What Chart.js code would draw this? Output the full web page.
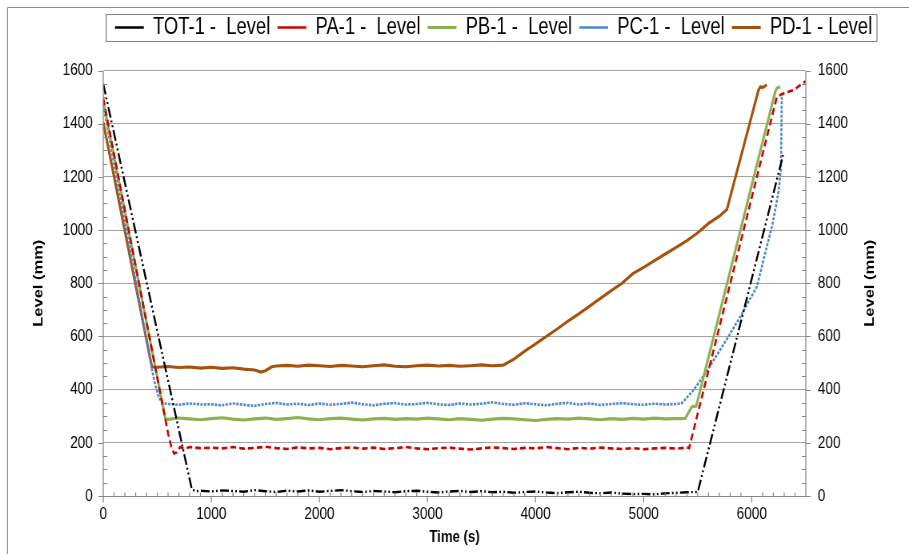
<!DOCTYPE html>
<html>
<head>
<meta charset="utf-8">
<script src="https://cdn.jsdelivr.net/npm/chart.js@4.4.1/dist/chart.umd.min.js"></script>
<style>
html,body{margin:0;padding:0;background:#fff;overflow:hidden;width:909px;height:554px;}
#box{width:909px;height:554px;overflow:hidden;position:relative;background:#fff;}
#c{position:absolute;left:0;top:0;transform:scaleX(0.80018);transform-origin:0 0;}
</style>
</head>
<body>
<div id="box"><canvas id="c" width="1136" height="554"></canvas></div>
<script>
// ---------------- data ----------------
const seriesNames = ['TOT-1 -  Level', 'PA-1 -  Level', 'PB-1 -  Level', 'PC-1 -  Level', 'PD-1 - Level'];
const xTitle = 'Time (s)';
const yTitle = 'Level (mm)';
const xTicks = [0, 1000, 2000, 3000, 4000, 5000, 6000];
const yTicks = [0, 200, 400, 600, 800, 1000, 1200, 1400, 1600];
const xRange = [0, 6500];
const yRange = [0, 1600];
const xMinorStep = 100;
const yMinorStep = 50;

const totTime = [0, 820, 860, 900, 1000, 1100, 1200, 1300, 1400, 1500, 1600, 1700, 1800, 1900, 2000, 2100, 2200, 2300, 2400, 2500, 2600, 2700, 2800, 2900, 3000, 3100, 3200, 3300, 3400, 3500, 3600, 3700, 3800, 3900, 4000, 4100, 4200, 4300, 4400, 4500, 4600, 4700, 4800, 4900, 5000, 5100, 5200, 5300, 5400, 5500, 6290];
const totLevel = [1550, 25, 18, 20, 17, 21, 19, 16, 22, 18, 15, 20, 17, 21, 16, 19, 22, 18, 15, 19, 17, 14, 18, 20, 16, 13, 17, 19, 15, 18, 14, 16, 12, 15, 17, 13, 11, 14, 16, 12, 10, 13, 9, 7, 8, 6, 10, 12, 14, 15, 1282];

const paTime = [0, 600, 630, 655, 680, 710, 750, 800, 900, 1000, 1100, 1200, 1300, 1400, 1500, 1600, 1700, 1800, 1900, 2000, 2100, 2200, 2300, 2400, 2500, 2600, 2700, 2800, 2900, 3000, 3100, 3200, 3300, 3400, 3500, 3600, 3700, 3800, 3900, 4000, 4100, 4200, 4300, 4400, 4500, 4600, 4700, 4800, 4900, 5000, 5100, 5200, 5300, 5400, 5420, 6232, 6280, 6390, 6500];
const paLevel = [1495, 235, 185, 160, 164, 184, 178, 184, 180,
  182, 179, 184, 178, 181, 185, 180, 177, 183, 179,
  181, 176, 180, 183, 178, 182, 177, 180, 184, 179,
  176, 180, 182, 178, 175, 179, 183, 180, 177, 181,
  179, 184, 180, 176, 181, 178, 182, 179, 177, 180,
  176, 179, 181, 178, 182,
  180, 1500, 1512, 1527, 1560];

const pbTime = [0, 574, 600, 700, 800, 900, 1000, 1100, 1200, 1300, 1400, 1500, 1600, 1700, 1800, 1900, 2000, 2100, 2200, 2300, 2400, 2500, 2600, 2700, 2800, 2900, 3000, 3100, 3200, 3300, 3400, 3500, 3600, 3700, 3800, 3900, 4000, 4100, 4200, 4300, 4400, 4500, 4600, 4700, 4800, 4900, 5000, 5100, 5200, 5300, 5384, 5446, 5486, 6217, 6232, 6263];
const pbLevel = [1485, 292, 288, 293, 290, 287,
  291, 294, 289, 286, 290, 293, 288, 291, 295, 290,
  287, 291, 293, 289, 286, 290, 292, 288, 291, 289,
  293, 290, 287, 291, 288, 285, 289, 292, 290, 287,
  284, 288, 291, 289, 293, 290, 287, 291, 288, 292,
  289, 293, 290, 291,
  292, 336, 338, 1520, 1533, 1539];

const pcTime = [0, 450, 480, 512, 545, 600, 700, 800, 900, 1000, 1100, 1200, 1300, 1400, 1500, 1600, 1700, 1800, 1900, 2000, 2100, 2200, 2300, 2400, 2500, 2600, 2700, 2800, 2900, 3000, 3100, 3200, 3300, 3400, 3500, 3600, 3700, 3800, 3900, 4000, 4100, 4200, 4300, 4400, 4500, 4600, 4700, 4800, 4900, 5000, 5100, 5200, 5300, 5353, 5461, 5585, 5646, 5770, 5893, 6047, 6108, 6186, 6217, 6250, 6270, 6278, 6285];
const pcLevel = [1470, 478, 420, 373, 350, 346, 343, 348, 344,
  345, 341, 348, 343, 339, 346, 350, 344, 347, 342,
  348, 343, 346, 351, 345, 341, 347, 349, 344, 346,
  350, 345, 342, 348, 344, 347, 352, 346, 343, 349,
  345, 341, 347, 350, 344, 348, 342, 346, 349, 345,
  343, 347, 344, 346,
  349, 398, 470, 510, 590, 674, 787, 887, 1012, 1075, 1150, 1230, 1500, 1512];

const pdTime = [0, 450, 500, 600, 700, 800, 900, 1000, 1100, 1200, 1300, 1400, 1460, 1500, 1560, 1600, 1700, 1800, 1900, 2000, 2100, 2200, 2300, 2400, 2500, 2600, 2700, 2800, 2900, 3000, 3100, 3200, 3300, 3400, 3500, 3600, 3700, 3800, 3900, 4000, 4100, 4200, 4300, 4400, 4500, 4600, 4700, 4800, 4900, 5000, 5100, 5200, 5300, 5400, 5500, 5600, 5700, 5770, 6062, 6080, 6100, 6140];
const pdLevel = [1405, 486, 484, 487, 483, 485, 481, 484, 480, 482, 477, 474, 466, 471, 486,
  489, 491, 488, 492, 490, 487, 491, 489, 486, 490,
  493, 488, 486, 490, 492, 489, 491, 488, 490, 493,
  490, 492, 515, 545, 572, 600, 628, 658, 685, 714,
  743, 772, 800, 836, 860, 885, 910, 935, 960, 990,
  1025, 1052, 1077, 1526, 1539, 1536, 1546];

// ---------------- rendering ----------------
const W = 1136, K = 909 / W;
const FONT = '"Liberation Sans", Arial, Helvetica, sans-serif';
const AXIS_GRAY = '#868686';

function pts(t, v) { return t.map((x, i) => ({ x: x, y: v[i] })); }

const styles = [
  { color: '#000000', width: 2.4, dash: [11, 3, 2, 3, 2, 3] },
  { color: '#D00000', width: 2.6, dash: [7, 4] },
  { color: '#8DB051', width: 3.1, dash: [] },
  { color: '#4C86CF', width: 2.6, dash: [3, 1.5] },
  { color: '#A5520C', width: 3.1, dash: [] }
];
const seriesData = [pts(totTime, totLevel), pts(paTime, paLevel), pts(pbTime, pbLevel), pts(pcTime, pcLevel), pts(pdTime, pdLevel)];

const datasets = seriesNames.map((name, i) => ({
  label: name,
  data: seriesData[i],
  borderColor: styles[i].color,
  backgroundColor: styles[i].color,
  borderWidth: styles[i].width,
  borderDash: styles[i].dash,
  pointRadius: 0,
  pointHoverRadius: 0,
  fill: false,
  tension: 0,
  yAxisID: 'y'
}));

const decor = {
  id: 'decor',
  afterLayout(chart) {
    const lg = chart.legend;
    if (!lg) return;
    const w = lg.right - lg.left, h = lg.bottom - lg.top;
    lg.left = 134.7; lg.right = lg.left + w;
    lg.top = 7; lg.bottom = lg.top + h;
  },
  afterDraw(chart) {
    const { ctx, chartArea: a, scales } = chart;
    const sx = scales.x, sy = scales.y;
    ctx.save();
    // outer chart frame (left and top edges visible)
    ctx.strokeStyle = '#8a8a8a';
    ctx.lineWidth = 1.25;
    ctx.beginPath(); ctx.moveTo(7.5 / K, 7.5); ctx.lineTo(7.5 / K, chart.height); ctx.stroke();
    ctx.lineWidth = 1;
    ctx.beginPath(); ctx.moveTo(7.5 / K, 7.5); ctx.lineTo(chart.width, 7.5); ctx.stroke();
    // legend frame
    const hb = chart.legend && chart.legend.legendHitBoxes;
    if (hb && hb.length) {
      const first = hb[0], last = hb[hb.length - 1];
      const x0 = first.left - 11, x1 = last.left + last.width + 6;
      const cy = first.top + first.height / 2;
      ctx.strokeStyle = '#7f7f7f';
      ctx.lineWidth = 1;
      ctx.beginPath();
      ctx.moveTo(x0, Math.round(cy - 13.5) + 0.5); ctx.lineTo(x1, Math.round(cy - 13.5) + 0.5);
      ctx.moveTo(x0, Math.round(cy + 13.5) + 0.5); ctx.lineTo(x1, Math.round(cy + 13.5) + 0.5);
      ctx.stroke();
      ctx.lineWidth = 1.25;
      ctx.beginPath();
      ctx.moveTo(x0, Math.round(cy - 13.5) + 0.5); ctx.lineTo(x0, Math.round(cy + 13.5) + 0.5);
      ctx.moveTo(x1, Math.round(cy - 13.5) + 0.5); ctx.lineTo(x1, Math.round(cy + 13.5) + 0.5);
      ctx.stroke();
    }
    // axes
    const L = a.left, R = a.right, T = Math.round(a.top) + 0.5, B = Math.round(a.bottom) + 0.5;
    ctx.strokeStyle = AXIS_GRAY;
    ctx.lineWidth = 1.25;
    ctx.beginPath();
    ctx.moveTo(L, T); ctx.lineTo(L, B + 6);
    ctx.moveTo(R, T); ctx.lineTo(R, B);
    for (let v = xRange[0]; v <= xRange[1]; v += xMinorStep) {
      const px = sx.getPixelForValue(v);
      if (xTicks.includes(v)) { ctx.moveTo(px, B); ctx.lineTo(px, B + 6); }
      else { ctx.moveTo(px, B - 4); ctx.lineTo(px, B); }
    }
    ctx.stroke();
    ctx.lineWidth = 1;
    ctx.beginPath();
    ctx.moveTo(L - 6, B); ctx.lineTo(R, B);
    for (let v = yRange[0]; v <= yRange[1]; v += yMinorStep) {
      const py = Math.round(sy.getPixelForValue(v)) + 0.5;
      if (yTicks.includes(v)) { ctx.moveTo(L - 6, py); ctx.lineTo(L, py); ctx.moveTo(R, py); ctx.lineTo(R + 6, py); }
      else { ctx.moveTo(L, py); ctx.lineTo(L + 5, py); ctx.moveTo(R - 5, py); ctx.lineTo(R, py); }
    }
    ctx.stroke();
    // right axis title (reads bottom to top)
    ctx.translate(R + 80, (a.top + a.bottom) / 2);
    ctx.rotate(-Math.PI / 2);
    ctx.font = 'bold 16.5px ' + FONT;
    ctx.fillStyle = '#000';
    ctx.textAlign = 'center';
    ctx.textBaseline = 'middle';
    ctx.fillText(yTitle, 0, 0);
    ctx.restore();
  }
};

const tickFont = { family: FONT, size: 17 };
const titleFont = { family: FONT, size: 16.5, weight: 'bold' };

new Chart(document.getElementById('c'), {
  type: 'line',
  data: { datasets: datasets },
  plugins: [decor],
  options: {
    responsive: false,
    animation: false,
    devicePixelRatio: 1,
    layout: { padding: { top: 28.5, left: 0, right: 0, bottom: 0 } },
    plugins: {
      legend: {
        display: true, position: 'top', align: 'start',
        labels: {
          usePointStyle: true, pointStyle: 'line', pointStyleWidth: 36, boxHeight: 23,
          padding: 9, color: '#000', font: { family: FONT, size: 23 }
        }
      },
      tooltip: { enabled: false },
      title: { display: false }
    },
    scales: {
      x: {
        type: 'linear', position: 'bottom', min: xRange[0], max: xRange[1],
        afterBuildTicks: s => { s.ticks = xTicks.map(v => ({ value: v })); },
        afterFit: s => { s.height = 58; },
        grid: { display: false, drawTicks: false },
        border: { display: false },
        ticks: { padding: 8, color: '#000', font: tickFont, maxRotation: 0, autoSkip: false, callback: v => String(v) },
        title: { display: true, text: xTitle, color: '#000', font: titleFont, padding: { top: 0, bottom: 7 } }
      },
      y: {
        type: 'linear', position: 'left', min: yRange[0], max: yRange[1],
        afterBuildTicks: s => { s.ticks = yTicks.map(v => ({ value: v })); },
        afterFit: s => { s.width = 129; },
        grid: { color: '#a3a3a3', lineWidth: 1, drawTicks: false },
        border: { display: false },
        ticks: { padding: 13, color: '#000', font: tickFont, autoSkip: false, callback: v => String(v) },
        title: { display: true, text: yTitle, color: '#000', font: titleFont, padding: { top: 38.8, bottom: 0 } }
      },
      y2: {
        type: 'linear', position: 'right', min: yRange[0], max: yRange[1],
        afterBuildTicks: s => { s.ticks = yTicks.map(v => ({ value: v })); },
        afterFit: s => { s.width = 129; },
        grid: { display: false, drawTicks: false },
        border: { display: false },
        ticks: { padding: 15, color: '#000', font: tickFont, autoSkip: false, callback: v => String(v) }
      }
    }
  }
});
</script>
</body>
</html>
